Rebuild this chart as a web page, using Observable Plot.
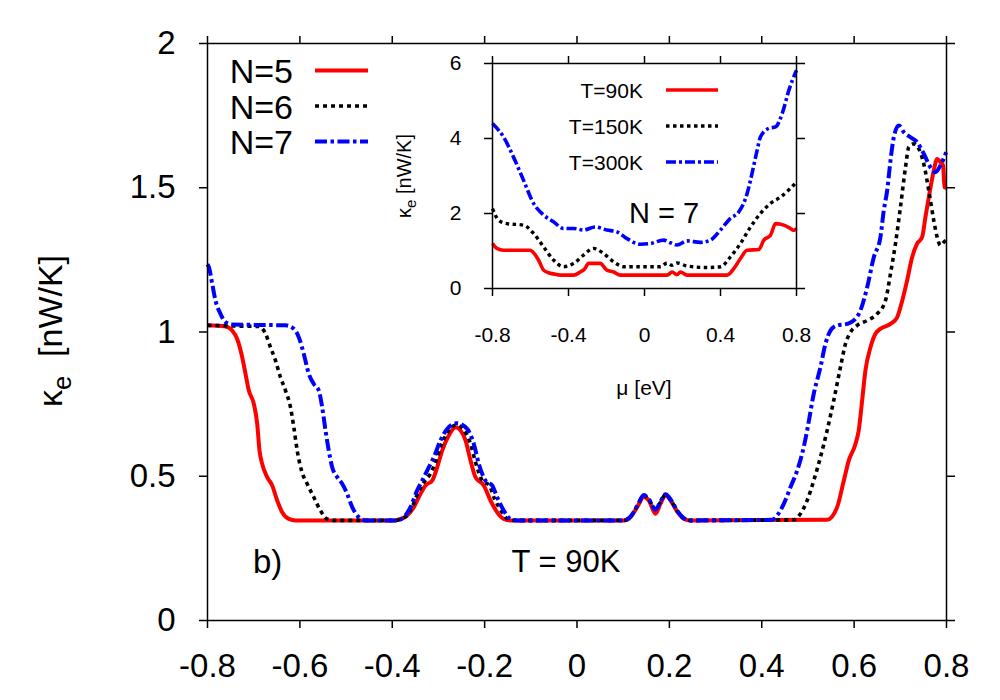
<!DOCTYPE html>
<html><head><meta charset="utf-8">
<script src="https://cdn.jsdelivr.net/npm/d3@7"></script>
<script src="https://cdn.jsdelivr.net/npm/@observablehq/plot@0.6"></script>
<style>
body{margin:0;background:#fff;}
#wrap{position:relative;width:1000px;height:700px;}
#wrap svg{position:absolute;left:0;top:0;overflow:visible;}
</style></head><body><div id="wrap"></div>
<script>
// ---------- data ----------
const muTicksMain = [-0.8,-0.6,-0.4,-0.2,0,0.2,0.4,0.6,0.8];
const kTicksMain = [0,0.5,1,1.5,2];
const muTicksInset = [-0.8,-0.4,0,0.4,0.8];
const kTicksInset = [0,2,4,6];
const seriesMain = ["N=5","N=6","N=7"];
const seriesInset = ["T=90K","T=150K","T=300K"];

const n5 = [[-0.8,1.023],[-0.761,1.019],[-0.7465,1.005],[-0.7357,0.976],[-0.7249,0.913],[-0.7177,0.855],[-0.7105,0.797],[-0.6997,0.751],[-0.6924,0.682],[-0.6874,0.589],[-0.6816,0.543],[-0.6708,0.497],[-0.6599,0.468],[-0.6491,0.416],[-0.6383,0.375],[-0.624,0.352],[-0.6095,0.347],
[-0.395,0.347],[-0.3822,0.352],[-0.3677,0.364],[-0.3533,0.393],[-0.3389,0.439],[-0.328,0.468],[-0.3135,0.485],[-0.3027,0.531],[-0.2919,0.589],[-0.2776,0.641],[-0.2631,0.670],[-0.2523,0.659],[-0.2414,0.624],[-0.2306,0.555],[-0.2198,0.497],[-0.2018,0.468],[-0.1873,0.416],[-0.1728,0.375],[-0.1585,0.352],[-0.144,0.347],
[0.1013,0.347],[0.1158,0.358],[0.1302,0.393],[0.1446,0.428],[0.1555,0.416],[0.1699,0.370],[0.1807,0.405],[0.1916,0.434],[0.205,0.41],[0.218,0.375],[0.232,0.352],[0.245,0.347],
[0.5416,0.349],[0.5632,0.393],[0.5777,0.485],[0.5885,0.555],[0.6029,0.612],[0.610,0.659],[0.6174,0.763],[0.6245,0.867],[0.6354,0.947],[0.6462,0.994],[0.657,1.011],[0.6786,1.028],[0.6932,1.051],[0.7003,1.086],[0.7148,1.179],[0.7256,1.259],[0.7364,1.306],[0.7473,1.329],[0.7544,1.398],[0.7617,1.467],[0.7725,1.560],[0.7797,1.600],[0.7869,1.589],[0.7927,1.577],[0.7956,1.502],[0.8,1.50]];

const n6 = [[-0.8,1.023],[-0.75,1.021],[-0.6889,1.019],[-0.6744,0.994],[-0.6636,0.947],[-0.6528,0.901],[-0.642,0.843],[-0.6311,0.797],[-0.6203,0.739],[-0.6131,0.670],[-0.6058,0.589],[-0.5965,0.520],[-0.5842,0.474],[-0.5698,0.427],[-0.5554,0.381],[-0.5409,0.352],[-0.5229,0.347],
[-0.392,0.347],[-0.371,0.36],[-0.357,0.393],[-0.343,0.447],[-0.332,0.478],[-0.317,0.51],[-0.306,0.55],[-0.294,0.607],[-0.279,0.655],[-0.261,0.678],[-0.245,0.66],[-0.231,0.615],[-0.22,0.55],[-0.205,0.485],[-0.19,0.468],[-0.178,0.42],[-0.163,0.377],[-0.15,0.352],[-0.136,0.347],
[0.1013,0.347],[0.1158,0.36],[0.1302,0.395],[0.1446,0.432],[0.1555,0.42],[0.1699,0.385],[0.1807,0.41],[0.1916,0.436],[0.205,0.412],[0.218,0.377],[0.232,0.353],[0.245,0.347],
[0.4693,0.349],[0.4838,0.370],[0.4983,0.416],[0.5126,0.485],[0.5271,0.566],[0.5416,0.659],[0.5559,0.763],[0.5704,0.878],[0.5813,0.959],[0.5921,0.999],[0.6066,1.023],[0.6282,1.040],[0.6499,1.063],[0.6679,1.109],[0.6787,1.202],[0.6895,1.306],[0.7003,1.433],[0.7112,1.571],[0.7184,1.641],[0.7292,1.652],[0.74,1.635],[0.7508,1.583],[0.7617,1.490],[0.7725,1.386],[0.7797,1.329],[0.7869,1.300],[0.7941,1.311],[0.8,1.32]];

const n7 = [[-0.8,1.235],[-0.797,1.225],[-0.7898,1.167],[-0.7827,1.109],[-0.7719,1.063],[-0.761,1.034],[-0.7465,1.026],[-0.6311,1.023],[-0.6131,1.011],[-0.6023,0.982],[-0.5915,0.924],[-0.5807,0.855],[-0.5698,0.820],[-0.559,0.797],[-0.5517,0.739],[-0.5445,0.659],[-0.5374,0.589],[-0.53,0.531],[-0.5192,0.497],[-0.5084,0.474],[-0.4976,0.439],[-0.4867,0.393],[-0.4724,0.358],[-0.4579,0.347],
[-0.3894,0.347],[-0.375,0.358],[-0.3605,0.393],[-0.346,0.451],[-0.3352,0.485],[-0.3209,0.531],[-0.31,0.566],[-0.2956,0.624],[-0.2811,0.664],[-0.2595,0.684],[-0.2378,0.664],[-0.2234,0.612],[-0.2126,0.543],[-0.1981,0.485],[-0.1837,0.468],[-0.1728,0.427],[-0.1585,0.381],[-0.144,0.352],[-0.1295,0.347],
[0.1013,0.347],[0.1158,0.36],[0.1302,0.397],[0.1446,0.435],[0.1555,0.42],[0.1699,0.385],[0.1807,0.412],[0.1916,0.438],[0.205,0.414],[0.218,0.378],[0.232,0.354],[0.245,0.347],
[0.4225,0.349],[0.4333,0.364],[0.4477,0.404],[0.4622,0.462],[0.4767,0.520],[0.4875,0.578],[0.4983,0.659],[0.5126,0.786],[0.5271,0.878],[0.5379,0.959],[0.5488,1.005],[0.5632,1.023],[0.5849,1.028],[0.5993,1.040],[0.6137,1.075],[0.6282,1.155],[0.6426,1.259],[0.657,1.329],[0.6642,1.421],[0.6715,1.490],[0.6787,1.594],[0.6859,1.675],[0.6967,1.716],[0.7075,1.693],[0.722,1.675],[0.7364,1.658],[0.7508,1.618],[0.7652,1.571],[0.776,1.554],[0.7869,1.577],[0.7993,1.623]];

const t90 = [[-0.8,1.2],[-0.777,1.07],[-0.742,1.02],[-0.602,1.02],[-0.58,0.93],[-0.558,0.76],[-0.531,0.49],[-0.505,0.42],[-0.479,0.39],[-0.443,0.356],[-0.373,0.356],[-0.338,0.44],[-0.315,0.52],[-0.294,0.67],[-0.233,0.67],[-0.198,0.49],[-0.162,0.44],[-0.127,0.356],[0.119,0.356],[0.145,0.44],[0.171,0.37],[0.189,0.44],[0.224,0.356],[0.435,0.356],[0.47,0.53],[0.505,0.8],[0.54,1.02],[0.602,1.04],[0.628,1.29],[0.663,1.42],[0.69,1.73],[0.733,1.69],[0.768,1.6],[0.785,1.55],[0.8,1.6]];

const t150 = [[-0.8,2.13],[-0.768,1.82],[-0.724,1.73],[-0.637,1.69],[-0.584,1.47],[-0.531,1.11],[-0.479,0.76],[-0.426,0.58],[-0.373,0.67],[-0.321,0.89],[-0.268,1.07],[-0.215,0.93],[-0.162,0.71],[-0.11,0.58],[0.084,0.58],[0.119,0.68],[0.145,0.62],[0.171,0.68],[0.224,0.6],[0.329,0.56],[0.4,0.58],[0.452,0.84],[0.505,1.2],[0.558,1.64],[0.61,2.0],[0.663,2.27],[0.716,2.44],[0.768,2.67],[0.8,2.84]];

const t300 = [[-0.8,4.4],[-0.742,4.04],[-0.69,3.51],[-0.637,2.89],[-0.584,2.27],[-0.531,1.96],[-0.479,1.78],[-0.426,1.6],[-0.373,1.6],[-0.321,1.56],[-0.259,1.64],[-0.198,1.56],[-0.145,1.51],[-0.092,1.33],[-0.022,1.18],[0.031,1.2],[0.101,1.29],[0.136,1.22],[0.171,1.16],[0.224,1.27],[0.294,1.23],[0.347,1.29],[0.4,1.56],[0.452,1.87],[0.496,2.04],[0.54,2.53],[0.558,2.89],[0.593,3.69],[0.61,4.04],[0.654,4.27],[0.69,4.31],[0.725,4.67],[0.76,5.29],[0.8,5.82]];

// ---------- styles ----------
const FONT = "Liberation Sans, Arial, Helvetica, sans-serif";
const styles = [
  {stroke:"#ff0000", strokeWidth:4, dash:null},
  {stroke:"#000000", strokeWidth:3.6, dash:"4,4"},
  {stroke:"#0000ff", strokeWidth:4, dash:"12,3.5,3.5,3.5"}
];
const insetStyles = [
  {stroke:"#ff0000", strokeWidth:3.6, dash:null},
  {stroke:"#000000", strokeWidth:3.4, dash:"3.5,3.5"},
  {stroke:"#0000ff", strokeWidth:3.6, dash:"10,3,3,3"}
];
const fmt = d => String(d);

function lineMark(data, s) {
  return Plot.line(data, {curve:"monotone-x", stroke:s.stroke, strokeWidth:s.strokeWidth,
    strokeDasharray:s.dash || undefined, strokeLinejoin:"round", strokeLinecap:"butt"});
}

// ---------- main plot ----------
const main = Plot.plot({
  width:1000, height:700,
  marginLeft:207, marginRight:54, marginTop:43, marginBottom:80,
  x:{domain:[-0.8,0.8]}, y:{domain:[0,2]},
  style:{fontFamily:FONT, fontSize:"33px", color:"#000", background:"transparent", overflow:"visible"},
  marks:[
    Plot.axisX({ticks:muTicksMain, tickSize:8, tickPadding:25, tickFormat:fmt, label:null, fontSize:33, strokeWidth:1.5}),
    Plot.axisX({anchor:"top", ticks:muTicksMain, tickSize:8, tickFormat:()=>"", label:null, strokeWidth:1.5}),
    Plot.axisY({ticks:kTicksMain, tickSize:8, tickPadding:24, tickFormat:fmt, label:null, fontSize:33, strokeWidth:1.5}),
    Plot.axisY({anchor:"right", ticks:kTicksMain, tickSize:8, tickFormat:()=>"", label:null, strokeWidth:1.5}),
    lineMark(n5, styles[0]),
    lineMark(n6, styles[1]),
    lineMark(n7, styles[2]),
    Plot.frame({stroke:"#000", strokeWidth:1.5})
  ]
});

// ---------- inset ----------
const inset = Plot.plot({
  width:1000, height:700,
  marginLeft:492, marginRight:204, marginTop:63, marginBottom:412,
  x:{domain:[-0.8,0.8]}, y:{domain:[0,6]},
  style:{fontFamily:FONT, fontSize:"21px", color:"#000", background:"transparent", overflow:"visible"},
  marks:[
    Plot.axisX({ticks:muTicksInset, tickSize:8, tickPadding:31, tickFormat:fmt, label:null, fontSize:21, strokeWidth:1.5}),
    Plot.axisX({anchor:"top", ticks:muTicksInset, tickSize:8, tickFormat:()=>"", label:null, strokeWidth:1.5}),
    Plot.axisY({ticks:kTicksInset, tickSize:8, tickPadding:23, tickFormat:fmt, label:null, fontSize:21, strokeWidth:1.5}),
    Plot.axisY({anchor:"right", ticks:kTicksInset, tickSize:8, tickFormat:()=>"", label:null, strokeWidth:1.5}),
    lineMark(t90, insetStyles[0]),
    lineMark(t150, insetStyles[1]),
    lineMark(t300, insetStyles[2]),
    Plot.frame({stroke:"#000", strokeWidth:1.5})
  ]
});

const wrap = document.getElementById("wrap");
wrap.appendChild(main);
wrap.appendChild(inset);

// ---------- annotations ----------
function addText(svg, {x, y, size, anchor="start", rotate=0}) {
  return d3.select(svg).append("text")
    .attr("font-family", FONT).attr("font-size", size).attr("fill", "#000")
    .attr("text-anchor", anchor)
    .attr("transform", `translate(${x},${y})` + (rotate ? ` rotate(${rotate})` : ""));
}
function kappaLabel(svg, x, y, size, gap) {
  const t = addText(svg, {x, y, size, anchor:"middle", rotate:-90});
  t.append("tspan").text("κ");
  t.append("tspan").attr("font-size", size*0.75).attr("dy", size*0.25).text("e");
  t.append("tspan").attr("dy", -size*0.25).text(gap + "[nW/K]");
}
function legendLine(svg, x1, x2, y, s) {
  d3.select(svg).append("line").attr("x1",x1).attr("x2",x2).attr("y1",y).attr("y2",y)
    .attr("stroke", s.stroke).attr("stroke-width", s.strokeWidth)
    .attr("stroke-linecap","butt")
    .attr("stroke-dasharray", s.dash);
}

// main y label
kappaLabel(main, 62, 331, 34, "\u00a0\u00a0");

// main legend
seriesMain.forEach((name, i) => {
  const yc = 70.5 + i*35.5;
  addText(main, {x:293, y:yc+12.5, size:34, anchor:"end"}).text(name);
  legendLine(main, 315, 368, yc, styles[i]);
});
addText(main, {x:253, y:573, size:33}).text("b)");
addText(main, {x:566, y:572, size:31, anchor:"middle"}).text("T = 90K");

// inset labels
kappaLabel(inset, 411, 176, 20, "\u00a0");
addText(inset, {x:644, y:395, size:21, anchor:"middle"}).text("μ [eV]");
addText(inset, {x:664, y:223, size:29, anchor:"middle"}).text("N = 7");
seriesInset.forEach((name, i) => {
  const yc = 90 + i*36;
  addText(inset, {x:643, y:yc+7.5, size:21, anchor:"end"}).text(name);
  legendLine(inset, 666, 718, yc, insetStyles[i]);
});
</script></body></html>
